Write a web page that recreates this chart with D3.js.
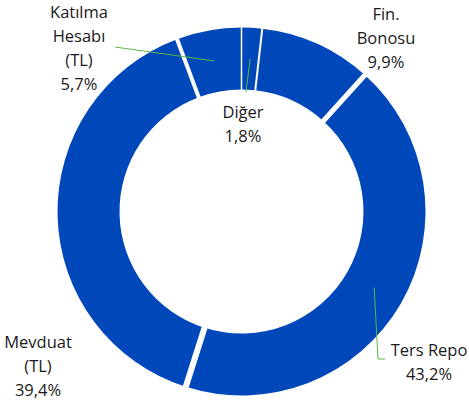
<!DOCTYPE html>
<html>
<head>
<meta charset="utf-8">
<script src="https://cdn.jsdelivr.net/npm/d3@7"></script>
<style>
  body { margin: 0; background: #fff; }
  text { font-family: "Open Sans", sans-serif; font-size: 16.5px; fill: #1a1a1a; }
</style>
</head>
<body>
<div id="chart"></div>
<script>
'use strict';

// slices, clockwise from 12 o'clock
const categories = ["Diğer", "Fin. Bonosu", "Ters Repo", "Mevduat (TL)", "Katılma Hesabı (TL)"];
const shares = [1.8, 9.9, 43.2, 39.4, 5.7];
const labelLines = [
  ["Diğer", "1,8%"],
  ["Fin.", "Bonosu", "9,9%"],
  ["Ters Repo", "43,2%"],
  ["Mevduat", "(TL)", "39,4%"],
  ["Katılma", "Hesabı", "(TL)", "5,7%"]
];

class Donut{
  constructor(p){
    this._width = p.width;
    this._height = p.height;
    this._cx = p.cx;
    this._cy = p.cy;
    this._outer = p.outer;
    this._inner = p.inner;
    this._color = p.color || "#0047ba";
    this._leader = p.leader || "#5cb546";
    //per boundary white gap width, boundary i = start of slice i
    this._gaps = p.gaps;
    //label layout: anchor x, first baseline, optional leader end
    this._labels = p.labels;
  }

  init(parent){
    this._svg = d3.select(parent).append("svg")
      .attr("width", this._width)
      .attr("height", this._height);

    let g = this._svg.append("g")
      .attr("transform", `translate(${this._cx},${this._cy})`);

    let pie = d3.pie().sort(null).value(d => d)(shares);
    let arc = d3.arc().innerRadius(this._inner).outerRadius(this._outer);
    let mid = d3.arc().innerRadius((this._inner + this._outer) / 2).outerRadius((this._inner + this._outer) / 2);

    g.selectAll("path.slice").data(pie).join("path")
      .attr("class", "slice")
      .attr("d", arc)
      .attr("fill", this._color);

    //white separators between slices
    g.selectAll("line.sep").data(pie).join("line")
      .attr("class", "sep")
      .attr("x1", d => (this._inner - 2) * Math.sin(d.startAngle))
      .attr("y1", d => -(this._inner - 2) * Math.cos(d.startAngle))
      .attr("x2", d => (this._outer + 2) * Math.sin(d.startAngle))
      .attr("y2", d => -(this._outer + 2) * Math.cos(d.startAngle))
      .attr("stroke", "#fff")
      .attr("stroke-width", (d, i) => this._gaps[i]);

    //leader lines from slice centroid to label
    pie.forEach((d, i) => {
      let l = this._labels[i];
      if(!l.leader) return;
      let c = mid.centroid(d);
      let pts = [[c[0] + this._cx, c[1] + this._cy]].concat(l.leader);
      this._svg.append("path")
        .attr("d", d3.line()(pts))
        .attr("fill", "none")
        .attr("stroke", this._leader)
        .attr("stroke-width", 1);
    });

    //labels
    labelLines.forEach((lines, i) => {
      let l = this._labels[i];
      let t = this._svg.append("text")
        .attr("text-anchor", "middle");
      lines.forEach((s, k) => {
        t.append("tspan")
          .attr("x", l.x)
          .attr("y", l.y + k * 24)
          .text(s);
      });
    });
  }
}

let chart = new Donut({
  width: 469,
  height: 405,
  cx: 241.5,
  cy: 211.5,
  outer: 184,
  inner: 122,
  gaps: [1.5, 2, 5, 6, 4],
  labels: [
    {x: 243, y: 118, leader: [[246, 92]]},
    {x: 386, y: 20},
    {x: 429, y: 356, leader: [[378, 359], [385, 359]]},
    {x: 38, y: 348},
    {x: 79, y: 18, leader: [[115, 47]]}
  ]
});
chart.init("#chart");
</script>
</body>
</html>
